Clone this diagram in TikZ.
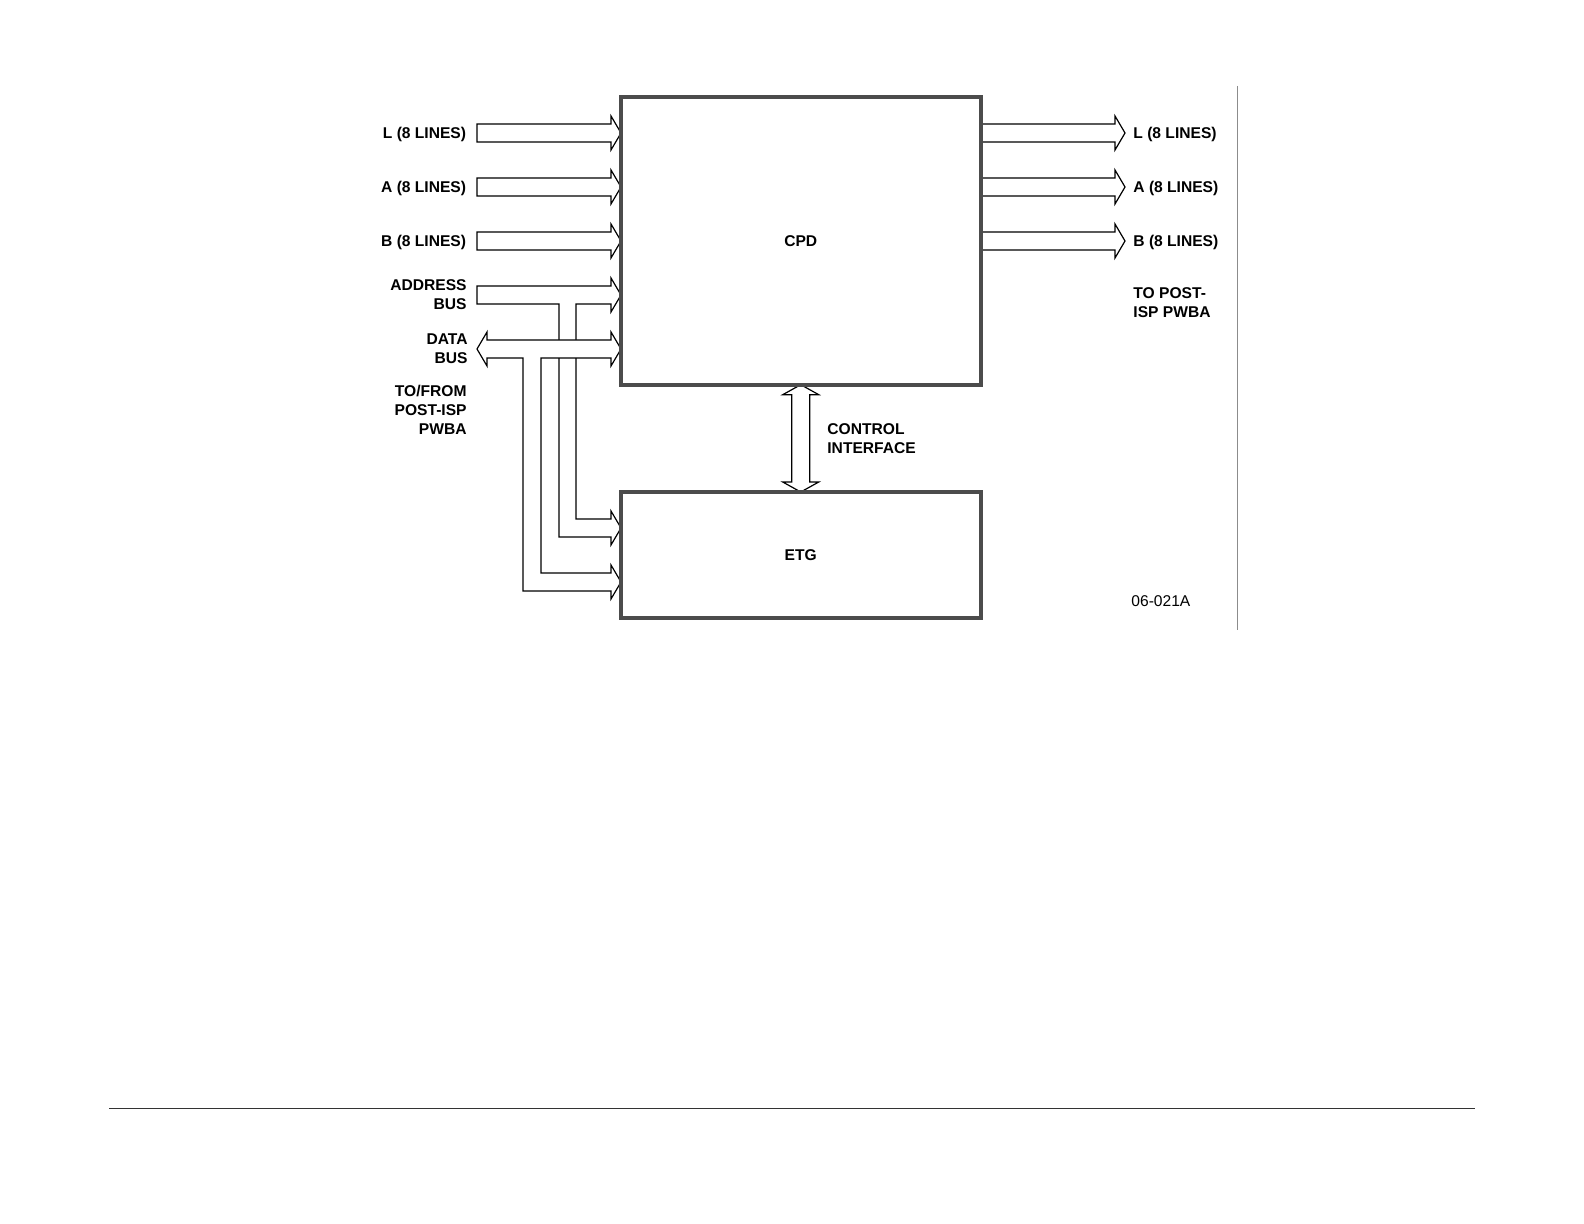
\documentclass[tikz,border=0pt]{standalone}
\usepackage{fontspec}
\setmainfont{Liberation Sans}
\usetikzlibrary{calc,backgrounds}

\newcommand{\figfont}{\fontsize{7.8}{9.5}\selectfont}

% horizontal block arrow from #1 to the tip #2
\newcommand{\fatarrow}[2]{%
  \draw[bus] let \p1=(#1), \p2=(#2) in
    (\x1,\y1-4.5pt) -- (\x2-5pt,\y1-4.5pt) -- (\x2-5pt,\y1-8.5pt) -- (\x2,\y1)
    -- (\x2-5pt,\y1+8.5pt) -- (\x2-5pt,\y1+4.5pt) -- (\x1,\y1+4.5pt) -- cycle;}

\begin{document}
\begin{tikzpicture}[x=0.5pt,y=-0.5pt,
  block/.style={draw=black!70,line width=2pt,fill=white,inner sep=0pt,outer sep=0pt,
    font=\figfont\bfseries},
  bus/.style={draw=black,line width=0.6pt,fill=white,line join=miter},
  lbl/.style={inner sep=0pt,font=\figfont\bfseries,align=right,anchor=east},
  rlbl/.style={inner sep=0pt,font=\figfont\bfseries,align=left,anchor=west}]

  \useasboundingbox (0,0) rectangle (1584,1224);

  \node[block,minimum width=179.75pt,minimum height=143.85pt] (cpd) at (800.75,240.85) {CPD};
  \node[block,minimum width=179.75pt,minimum height=63pt] (etg) at (800.75,555) {ETG};

  % L, A, B from the left and to the right
  \foreach \y/\sig in {133/L,187/A,241/B} {
    \coordinate (src\sig) at (477,\y);
    \coordinate (dst\sig) at (1125,\y);
    \coordinate (tip\sig) at (cpd.west |- src\sig);
    \coordinate (tail\sig) at (cpd.east |- dst\sig);
    \node[lbl] (lsrc\sig) at (466.5,\y+1.5) {\sig\ (8 LINES)};
    \node[rlbl] (ldst\sig) at (1133,\y+1.5) {\sig\ (8 LINES)};
  }

  \begin{scope}[on background layer]
    \foreach \sig in {L,A,B} {
      \fatarrow{src\sig}{tip\sig}
      \fatarrow{tail\sig}{dst\sig}
    }

    % address bus, branch to ETG
    \coordinate (addr) at (477,295);
    \draw[bus] (477,286) -- (611,286) -- (611,278) -- (cpd.west |- addr) -- (611,312)
      -- (611,304) -- (576,304) -- (576,519) -- (611,519) -- (611,511) -- (621,528)
      -- (611,545) -- (611,537) -- (559,537) -- (559,304) -- (477,304) -- cycle;

    % data bus, branch to ETG
    \coordinate (data) at (477,349);
    \draw[bus] (487,340) -- (611,340) -- (611,332) -- (cpd.west |- data) -- (611,366)
      -- (611,358) -- (541,358) -- (541,573) -- (611,573) -- (611,565) -- (621,582)
      -- (611,599) -- (611,591) -- (523,591) -- (523,358) -- (487,358) -- (487,366)
      -- (data) -- (487,332) -- cycle;

    % control interface
    \draw[bus] let \p1=(cpd.south), \p2=(etg.north) in
      (\x1-4.5pt,\y1-5pt) -- (\x1-9pt,\y1-5pt) -- (\x1,\y1) -- (\x1+9pt,\y1-5pt)
      -- (\x1+4.5pt,\y1-5pt) -- (\x1+4.5pt,\y2+5pt) -- (\x1+9pt,\y2+5pt) -- (\x1,\y2)
      -- (\x1-9pt,\y2+5pt) -- (\x1-4.5pt,\y2+5pt) -- cycle;
  \end{scope}

  \node[lbl] (laddr) at (467,295) {ADDRESS\\BUS};
  \node[lbl] (ldata) at (468,349) {DATA\\BUS};
  \node[lbl] (lfrom) at (467,410) {TO/FROM\\POST-ISP\\PWBA};
  \node[rlbl] (lto) at (1133,303) {TO POST-\\ISP PWBA};
  \node[rlbl] (lctl) at (827,439) {CONTROL\\INTERFACE};
  \node[rlbl,font=\figfont] (docno) at (1131,601.5) {06-021A};

  \draw[black!45,line width=0.6pt] (1237.5,86) -- (1237.5,630);
  \draw[black!80,line width=0.5pt] (109,1108) -- (1475,1108);
\end{tikzpicture}
\end{document}
